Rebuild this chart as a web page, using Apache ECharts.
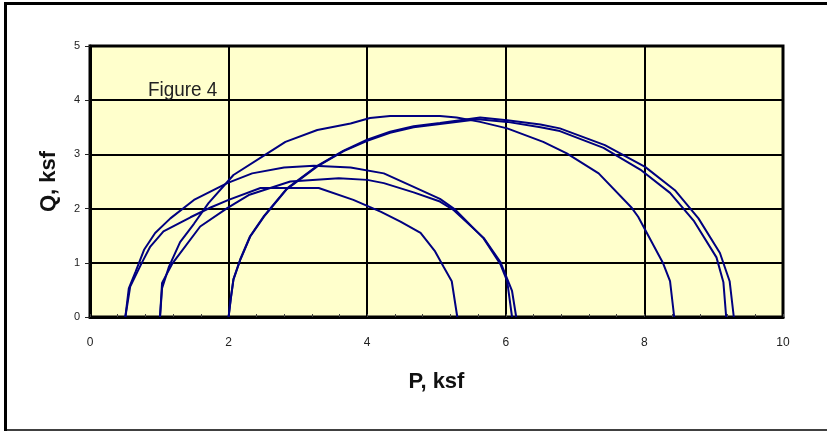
<!DOCTYPE html>
<html>
<head>
<meta charset="utf-8">
<script src="https://cdn.jsdelivr.net/npm/echarts@6/dist/echarts.min.js"></script>
<style>
html,body{margin:0;padding:0;background:#fff;}
#chart{width:827px;height:431px;}
</style>
</head>
<body>
<div id="chart"></div>
<script>
// Tick labels
var xTicks = [0, 2, 4, 6, 8, 10];
var yTicks = [0, 1, 2, 3, 4, 5];

// Mohr circle curves, [P, Q] in ksf
var curveA = [[0.51,0],[0.58,0.56],[0.74,0.98],[0.87,1.30],[1.06,1.58],[1.45,1.84],[1.74,2.02],[2.0,2.16],[2.46,2.38],[3.30,2.38],[3.80,2.16],[4.20,1.94],[4.48,1.76],[4.77,1.55],[4.98,1.21],[5.10,0.93],[5.22,0.66],[5.30,0]];
var curveB = [[0.51,0],[0.56,0.53],[0.66,0.84],[0.78,1.24],[0.94,1.55],[1.16,1.82],[1.50,2.16],[1.98,2.47],[2.34,2.65],[2.80,2.76],[3.23,2.79],[3.76,2.76],[4.24,2.65],[4.67,2.40],[5.05,2.18],[5.27,1.98],[5.68,1.45],[5.92,0.98],[6.02,0.66],[6.09,0]];
var curveC = [[1.01,0],[1.04,0.63],[1.19,0.99],[1.59,1.67],[1.98,2.01],[2.29,2.25],[2.89,2.50],[3.59,2.56],[4.00,2.53],[4.24,2.47],[4.67,2.30],[5.05,2.13],[5.25,1.97],[5.68,1.46],[5.92,1.02],[6.09,0.48],[6.15,0]];
var curveD = [[1.01,0],[1.04,0.53],[1.14,0.93],[1.30,1.38],[1.50,1.72],[1.71,2.10],[2.07,2.62],[2.56,3.02],[2.82,3.23],[3.28,3.45],[3.76,3.57],[4.04,3.67],[4.33,3.71],[5.05,3.71],[5.29,3.68],[5.63,3.60],[6.02,3.48],[6.54,3.23],[6.88,3.02],[7.34,2.65],[7.82,2.01],[7.91,1.85],[8.27,0.99],[8.37,0.66],[8.43,0]];
var curveE = [[2.0,0],[2.03,0.32],[2.07,0.69],[2.17,1.06],[2.31,1.48],[2.51,1.85],[2.75,2.22],[2.84,2.36],[3.28,2.78],[3.66,3.06],[4.0,3.25],[4.33,3.40],[4.67,3.50],[5.05,3.56],[5.60,3.65],[6.02,3.60],[6.50,3.50],[6.78,3.43],[7.41,3.12],[7.94,2.72],[8.37,2.29],[8.71,1.78],[9.04,1.10],[9.14,0.64],[9.18,0]];
var curveF = [[2.0,0],[2.03,0.33],[2.07,0.70],[2.17,1.07],[2.31,1.49],[2.51,1.86],[2.75,2.23],[2.84,2.37],[3.28,2.79],[3.66,3.07],[4.0,3.27],[4.33,3.42],[4.67,3.52],[5.05,3.58],[5.63,3.68],[6.02,3.63],[6.50,3.55],[6.78,3.48],[7.43,3.17],[8.01,2.77],[8.44,2.34],[8.78,1.82],[9.09,1.18],[9.23,0.66],[9.29,0]];

var curves = [curveA, curveB, curveC, curveD, curveE, curveF];

var chart = echarts.init(document.getElementById('chart'), null, {renderer: 'canvas'});
var option = {
  animation: false,
  backgroundColor: '#ffffff',
  graphic: [
    {type: 'line', shape: {x1: 4, y1: 3.5, x2: 827, y2: 3.5}, style: {stroke: '#000', lineWidth: 3}},
    {type: 'line', shape: {x1: 5.5, y1: 2, x2: 5.5, y2: 431}, style: {stroke: '#000', lineWidth: 3}},
    {type: 'line', shape: {x1: 4, y1: 430, x2: 827, y2: 430}, style: {stroke: '#000', lineWidth: 1.5}},
    {type: 'text', x: 148, y: 80, scaleX: 0.9, z: 10,
      style: {text: 'Figure 4', fill: '#222', font: '21px "Liberation Sans", Arial, sans-serif', textVerticalAlign: 'top'}}
  ],
  grid: {
    left: 90, top: 46, width: 693, height: 271,
    show: true, backgroundColor: '#ffffcc', borderColor: '#000', borderWidth: 3
  },
  xAxis: {
    type: 'value', min: 0, max: 10, interval: 2,
    name: 'P, ksf', nameLocation: 'middle', nameGap: 54,
    nameTextStyle: {fontFamily: '"Liberation Sans", Arial, sans-serif', fontWeight: 'bold', fontSize: 22, color: '#111'},
    axisLine: {show: true, onZero: false, lineStyle: {color: '#000', width: 3}},
    axisTick: {show: true, inside: true, length: 3, lineStyle: {color: '#444', width: 1}},
    minorTick: {show: true, splitNumber: 5, length: 3, lineStyle: {color: '#444', width: 1}},
    axisLabel: {margin: 20, fontFamily: '"Liberation Sans", Arial, sans-serif', fontSize: 12, color: '#222',
      formatter: function (v) { return xTicks.indexOf(v) >= 0 ? String(v) : ''; }},
    splitLine: {show: true, lineStyle: {color: '#000', width: 2}}
  },
  yAxis: {
    type: 'value', min: 0, max: 5, interval: 1,
    name: 'Q, ksf', nameLocation: 'middle', nameGap: 30, nameRotate: 90,
    nameTextStyle: {fontFamily: '"Liberation Sans", Arial, sans-serif', fontWeight: 'bold', fontSize: 22, color: '#111'},
    axisLine: {show: true, onZero: false, lineStyle: {color: '#000', width: 3}},
    axisTick: {show: true, inside: false, length: 5, lineStyle: {color: '#222', width: 1}},
    axisLabel: {margin: 10, fontFamily: '"Liberation Sans", Arial, sans-serif', fontSize: 11, color: '#222',
      formatter: function (v) { return yTicks.indexOf(v) >= 0 ? String(v) : ''; }},
    splitLine: {show: true, lineStyle: {color: '#000', width: 2}}
  },
  series: curves.map(function (c) {
    return {
      type: 'line', data: c, showSymbol: false, symbol: 'none', smooth: false,
      lineStyle: {color: '#000080', width: 2}, z: 3
    };
  })
};
chart.setOption(option);
</script>
</body>
</html>
